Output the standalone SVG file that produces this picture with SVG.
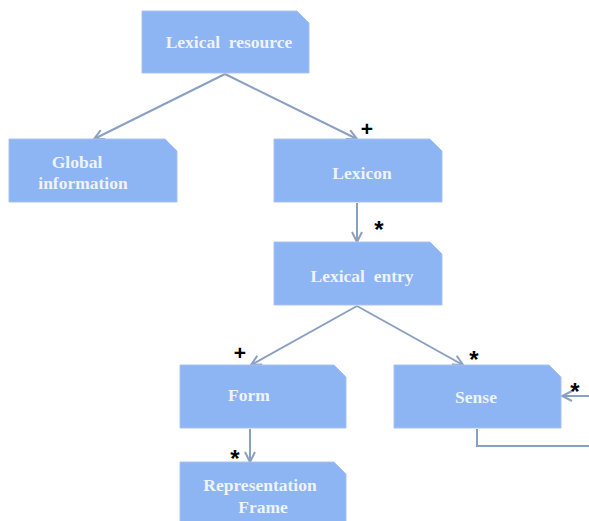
<svg xmlns="http://www.w3.org/2000/svg" width="589" height="521" viewBox="0 0 589 521">
<style>
.box{fill:#8db4f3;stroke:#a9c3ee;stroke-width:1}
.t{font-family:'Liberation Serif','Times New Roman',serif;font-weight:bold;font-size:17.5px;fill:#eef3fc;text-anchor:middle;white-space:pre}
.c{fill:none;stroke:#8aa0c2;stroke-width:2}
.p{font-family:'Liberation Sans',sans-serif;font-weight:bold;font-size:21px;fill:#000;text-anchor:middle}
.s{font-family:'Liberation Sans',sans-serif;font-weight:bold;font-size:24px;fill:#000;text-anchor:middle}
</style>
<defs>
<marker id="a" viewBox="0 0 12 12" refX="11" refY="6" markerWidth="12" markerHeight="12" markerUnits="userSpaceOnUse" orient="auto">
<polyline points="1,1 11,6 1,11" fill="none" stroke="#8aa0c2" stroke-width="2"/>
</marker>
</defs>
<rect width="589" height="521" fill="#fff"/>
<g id="connectors">
<line class="c" x1="225" y1="74" x2="94" y2="139" marker-end="url(#a)"/>
<line class="c" x1="225" y1="74" x2="357" y2="139" marker-end="url(#a)"/>
<line class="c" x1="357" y1="203" x2="357" y2="242" marker-end="url(#a)"/>
<line class="c" x1="357" y1="306" x2="251" y2="365" marker-end="url(#a)"/>
<line class="c" x1="357" y1="306" x2="463" y2="365" marker-end="url(#a)"/>
<line class="c" x1="250" y1="429" x2="250" y2="462" marker-end="url(#a)"/>
<polyline class="c" points="477,429 477,446 592,446 592,396 562,396" marker-end="url(#a)"/>
<text class="p" x="367" y="136">+</text>
<text class="s" x="379" y="238">*</text>
<text class="p" x="240" y="360">+</text>
<text class="s" x="474" y="368">*</text>
<text class="s" x="235" y="467">*</text>
<text class="s" x="575" y="400">*</text>
</g>
<g id="lexical-resource">
<path class="box" d="M142,11 H297 L309,23 V73 H142 Z"/>
<text class="t" x="229" y="48" xml:space="preserve">Lexical  resource</text>
</g>
<g id="global-information">
<path class="box" d="M9,139 H165 L177,151 V202 H9 Z"/>
<text class="t" x="77" y="168">Global</text>
<text class="t" x="83" y="189">information</text>
</g>
<g id="lexicon">
<path class="box" d="M274,139 H430 L442,151 V202 H274 Z"/>
<text class="t" x="362" y="179">Lexicon</text>
</g>
<g id="lexical-entry">
<path class="box" d="M274,242 H430 L442,254 V305 H274 Z"/>
<text class="t" x="362" y="282" xml:space="preserve">Lexical  entry</text>
</g>
<g id="form">
<path class="box" d="M180,365 H334 L346,377 V428 H180 Z"/>
<text class="t" x="249" y="401">Form</text>
</g>
<g id="sense">
<path class="box" d="M394,365 H549 L561,377 V428 H394 Z"/>
<text class="t" x="476" y="403">Sense</text>
</g>
<g id="representation-frame">
<path class="box" d="M180,462 H334 L346,474 V530 H180 Z"/>
<text class="t" x="260" y="491">Representation</text>
<text class="t" x="263" y="513">Frame</text>
</g>
</svg>
